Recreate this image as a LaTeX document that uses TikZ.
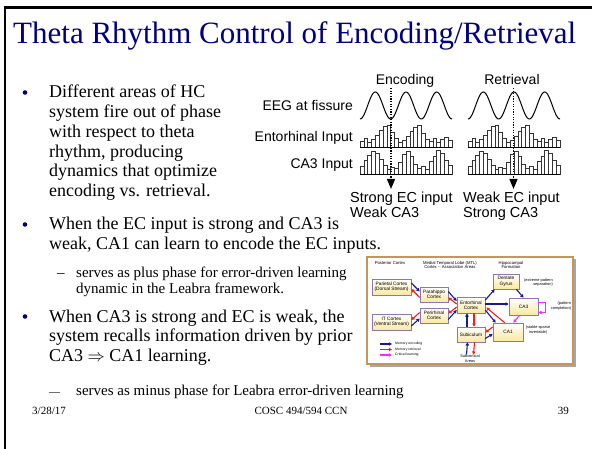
\documentclass[tikz,border=0pt]{standalone}
\usepackage{fontspec}
\setmainfont{Liberation Serif}
\newfontfamily\arialf{Liberation Sans}
\usetikzlibrary{arrows.meta,calc,shadows}
\definecolor{titleblue}{RGB}{0,0,128}
\definecolor{encblue}{RGB}{25,25,140}
\definecolor{retred}{RGB}{255,25,25}
\definecolor{critmag}{RGB}{255,40,255}
\definecolor{framebrown}{RGB}{196,150,90}
\definecolor{boxedge}{RGB}{140,120,175}
\definecolor{boxfill}{RGB}{250,232,160}
\begin{document}
\begin{tikzpicture}[x=1pt,y=-1pt,
  body/.style={anchor=base west,inner sep=0pt,font=\fontsize{18}{20}\selectfont},
  subbody/.style={anchor=base west,inner sep=0pt,font=\fontsize{15}{17}\selectfont},
  foot/.style={inner sep=0pt,font=\fontsize{11}{13}\selectfont},
  bulletdot/.style={circle,fill=titleblue,inner sep=0pt,minimum size=4.6pt},
  lbl/.style={inner sep=0pt,font=\arialf\fontsize{14}{16}\selectfont},
  lbltwo/.style={inner sep=0pt,anchor=base west,font=\arialf\fontsize{14.5}{16}\selectfont},
  sine/.style={line width=1pt,black},
  barbox/.style={draw=black!80,line width=0.5pt,fill=white},
  baseaxis/.style={line width=0.8pt,black},
  dotarrow/.style={line width=1.3pt,dash pattern=on 1.3pt off 1.3pt,-{Triangle[length=10pt,width=8pt]}},
  hdr/.style={inner sep=0pt,font=\arialf\fontsize{4.2}{4.8}\selectfont,align=center},
  area/.style={draw=boxedge,line width=0.6pt,top color=white,bottom color=boxfill,inner sep=0pt,align=center,
    font=\arialf\fontsize{4.8}{5.4}\selectfont,
    drop shadow={shadow xshift=0.7pt,shadow yshift=-0.7pt,opacity=0.35,fill=black}},
  note/.style={inner sep=0pt,font=\arialf\fontsize{3.9}{4.5}\selectfont},
  leg/.style={inner sep=0pt,anchor=west,font=\arialf\fontsize{3.4}{4}\selectfont},
  enc/.style={draw=encblue,line width=1.1pt,-{Triangle[length=3.2pt,width=3.4pt]}},
  ret/.style={draw=retred,line width=1.1pt,-{Triangle[length=3.2pt,width=3.4pt]}},
  crit/.style={draw=critmag,line width=1.1pt,-{Triangle[length=3.2pt,width=3.4pt]}},
]
\useasboundingbox (0,0) rectangle (592,449);
\fill[white] (0,0) rectangle (592,449);
\draw[line width=2.5pt] (5,449) -- (5,7.5) -- (592,7.5);

% title
\node[anchor=base west,inner sep=0pt,text=titleblue,font=\fontsize{31}{34}\selectfont] (title) at (13,44) {Theta Rhythm Control of Encoding/Retrieval};

% bullet 1
\node[bulletdot] (d1) at (25,92.5) {};
\node[body] (b1a) at (49,98) {Different areas of HC};
\node[body] (b1b) at (49,117.7) {system fire out of phase};
\node[body] (b1c) at (49,137.4) {with respect to theta};
\node[body] (b1d) at (49,157.1) {rhythm, producing};
\node[body] (b1e) at (49,176.8) {dynamics that optimize};
\node[body] (b1f) at (49,196.5) {encoding vs. retrieval.};

% bullet 2
\node[bulletdot] (d2) at (25,224.5) {};
\node[body] (b2a) at (49,230) {When the EC input is strong and CA3 is};
\node[body] (b2b) at (49,249.5) {weak, CA1 can learn to encode the EC inputs.};
\node[subbody] (s1d) at (57,277) {--};
\node[subbody] (s1a) at (76,277) {serves as plus phase for error-driven learning};
\node[subbody] (s1b) at (76,293.5) {dynamic in the Leabra framework.};

% bullet 3
\node[bulletdot] (d3) at (25,316.5) {};
\node[body] (b3a) at (49,322) {When CA3 is strong and EC is weak, the};
\node[body] (b3b) at (49,341.7) {system recalls information driven by prior};
\node[body] (b3c) at (49,361.4) {CA3 $\Rightarrow$ CA1 learning.};
\node[anchor=base west,inner sep=0pt,font=\fontsize{11}{13}\selectfont] (s2d) at (49,395) {---};
\node[subbody] (s2a) at (76,395) {serves as minus phase for Leabra error-driven learning};

% footer
\node[foot,anchor=base west] (f1) at (32,414) {3/28/17};
\node[foot,anchor=base] (f2) at (301,414) {COSC 494/594 CCN};
\node[foot,anchor=base east] (f3) at (569,414) {39};

% ---------- theta figure ----------
\node[lbl,anchor=base] (encl) at (405,85) {Encoding};
\node[lbl,anchor=base] (retl) at (512,85) {Retrieval};
\node[lbl,anchor=base east] (eegl) at (353,111) {EEG at fissure};
\node[lbl,anchor=base east] (ecl) at (353,142) {Entorhinal Input};
\node[lbl,anchor=base east] (ca3l) at (353,169) {CA3 Input};
\draw[sine] plot[domain=0:92,samples=120] ({360+\x},{105.5+13.5*cos(11.739*\x)});
\draw[sine] plot[domain=0:92,samples=120] ({468+\x},{105.5+13.5*cos(11.739*\x)});
\foreach \off in {360,468}{
  \foreach \h [count=\i from 0] in {6,9,5,8,12,17,21,22,15,9,5,7,11,16,20,22,14,8,6,9,5,8,10,7}
    \draw[barbox] ({\off+\i*3.833},147) rectangle ++(3.833,-\h);
  \foreach \h [count=\i from 0] in {8,14,19,23,21,15,9,5,7,6,12,20,23,18,10,6,8,5,13,18,24,21,14,9}
    \draw[barbox] ({\off+\i*3.833},174) rectangle ++(3.833,-\h);
  \draw[baseaxis] (\off,147) -- ++(92,0);
  \draw[baseaxis] (\off,174) -- ++(92,0);
}
\coordinate (encA) at (391,88);
\coordinate (encB) at (391,189);
\coordinate (retA) at (513.5,88);
\coordinate (retB) at (513.5,189);
\draw[dotarrow] (encA) -- (encB);
\draw[dotarrow] (retA) -- (retB);
\node[lbltwo] (sa) at (350,203) {Strong EC input};
\node[lbltwo] (sb) at (350,217.5) {Weak CA3};
\node[lbltwo] (sc) at (463,203) {Weak EC input};
\node[lbltwo] (sd) at (463,217.5) {Strong CA3};

% ---------- hippocampus diagram ----------
\fill[black!35] (369.5,259.5) rectangle (575.5,366.5);
\draw[framebrown,line width=1.2pt,fill=white] (367,257) rectangle (573,364);
\node[hdr] (h1) at (390,263) {Posterior Cortex};
\node[hdr] (h2) at (450,265) {Medial Temporal Lobe (MTL)\\Cortex -- Association Areas};
\node[hdr] (h3) at (511,265) {Hippocampal\\Formation};

\node[area,minimum width=39pt,minimum height=16pt] (par) at (391.5,287) {Parietal Cortex\\(Dorsal Stream)};
\node[area,minimum width=39pt,minimum height=16pt] (it) at (391.5,322) {IT Cortex\\(Ventral Stream)};
\node[area,minimum width=28pt,minimum height=15pt] (pha) at (434,294.5) {Parahippo\\Cortex};
\node[area,minimum width=28pt,minimum height=15pt] (per) at (434,315.5) {Perirhinal\\Cortex};
\node[area,minimum width=28pt,minimum height=16pt] (ent) at (471,305) {Entorhinal\\Cortex};
\node[area,minimum width=28pt,minimum height=15pt] (sub) at (471,334.5) {Subiculum};
\node[area,minimum width=26pt,minimum height=15pt] (dg) at (506,281.5) {Dentate\\Gyrus};
\node[area,minimum width=29pt,minimum height=17pt] (ca3) at (523.5,306.5) {CA3};
\node[area,minimum width=30pt,minimum height=18pt] (ca1) at (508,332) {CA1};

\node[note,align=right] (n1) at (538.5,282.5) {(extreme pattern\\separation)};
\node[note,align=right] (n2) at (561,306) {(pattern\\completion)};
\node[note,align=center] (n3) at (538,330) {(stable sparse\\invertable)};
\node[note,align=center] (subc) at (470,358.5) {Subcortical\\Areas};

% cortex <-> MTL
\draw[enc] ($(par.east)+(0,-4)$) -- ($(pha.west)+(0,-3)$);
\draw[ret] ($(pha.west)+(0,3)$) -- ($(par.east)+(0,2)$);
\draw[enc] ($(it.east)+(0,4)$) -- ($(per.west)+(0,3)$);
\draw[ret] ($(per.west)+(0,-3)$) -- ($(it.east)+(0,-2)$);
\draw[enc] ($(pha.east)+(0,-3)$) -- ($(ent.west)+(0,-4)$);
\draw[ret] ($(ent.west)+(0,-1)$) -- ($(pha.east)+(0,3)$);
\draw[enc] ($(per.east)+(0,4)$) -- ($(ent.west)+(0,5)$);
\draw[ret] ($(ent.west)+(0,2)$) -- ($(per.east)+(0,-2)$);
% hippocampus
\draw[enc] ($(ent.east)+(0,-5)$) -- ($(dg.south west)+(2,0)$);
\draw[enc] ($(ent.east)+(0,-1)$) -- ($(ca3.west)+(0,-2.5)$);
\draw[enc] ($(dg.south east)+(-3,0)$) -- (ca3.north);
\draw[enc] ($(ent.east)+(0,5)$) -- ($(ca1.north west)+(3,0)$);
\draw[ret] ($(ca1.north west)+(12,0)$) -- ($(ent.east)+(1,2.5)$);
\draw[crit] ($(ca3.south)+(-4,0)$) -- ($(ca1.north east)+(-10,0)$);
\draw[crit] ($(ca3.east)+(0,-4)$) -- ++(7,0) -- ++(0,10) -- ($(ca3.east)+(0,6)$);
\draw[ret] ($(ca1.west)+(0,-5)$) -- ($(sub.east)+(0,-2)$);
\draw[enc] ($(sub.east)+(0,4)$) -- ($(ca1.west)+(0,2)$);
\draw[enc] ($(sub.north)+(-4,0)$) -- ($(ent.south)+(-4,0)$);
\draw[ret] ($(ent.south)+(3,0)$) -- ($(sub.north)+(3,0)$);
\draw[enc] ($(subc.north)+(-3.5,0)$) -- ($(sub.south)+(-3.5,0)$);
\draw[ret] ($(sub.south)+(3.5,0)$) -- ($(subc.north)+(3.5,0)$);

% legend
\coordinate (la1) at (380,344); \coordinate (lb1) at (392,344);
\coordinate (la2) at (380,349.5); \coordinate (lb2) at (392,349.5);
\coordinate (la3) at (380,355); \coordinate (lb3) at (392,355);
\draw[enc] (la1) -- (lb1);
\draw[ret] (la2) -- (lb2);
\draw[crit] (la3) -- (lb3);
\node[leg] (lt1) at (395,344) {Memory encoding};
\node[leg] (lt2) at (395,349.5) {Memory retrieval};
\node[leg] (lt3) at (395,355) {Critical learning};
\end{tikzpicture}
\end{document}
